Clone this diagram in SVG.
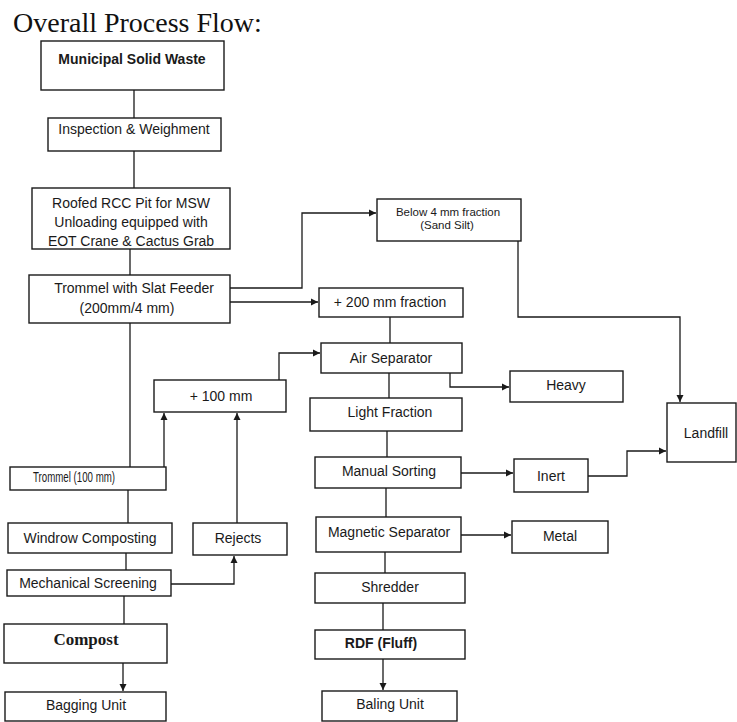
<svg xmlns="http://www.w3.org/2000/svg" width="737" height="722" viewBox="0 0 737 722">
<defs>
<marker id="ah" markerWidth="8" markerHeight="8" refX="7" refY="4" orient="auto" markerUnits="userSpaceOnUse">
<path d="M0,0.5 L7,4 L0,7.5 Z" fill="#1a1a1a"/>
</marker>
<style>
.box{fill:#fff;stroke:#1a1a1a;stroke-width:1.4}
.t{font-family:"Liberation Sans",Arial,sans-serif;font-size:14px;fill:#1a1a1a;text-anchor:middle}
.b{font-weight:bold}
.s{font-size:11.5px}
.c{fill:none;stroke:#1a1a1a;stroke-width:1.3}
.a{marker-end:url(#ah)}
</style>
</defs>
<rect width="737" height="722" fill="#fff"/>
<text x="13" y="32" font-family="'Liberation Serif','Times New Roman',serif" font-size="28" fill="#111">Overall Process Flow:</text>

<g id="connectors">
<path class="c" d="M134,90 V118"/>
<path class="c" d="M134,151 V188"/>
<path class="c" d="M130,249 V275"/>
<path class="c a" d="M230,288 H302 V213 H376"/>
<path class="c a" d="M230,302 H318"/>
<path class="c" d="M390,317 V343"/>
<path class="c a" d="M518,241 V317 H680 V402"/>
<path class="c" d="M130,323 V467"/>
<path class="c a" d="M164,467 V413"/>
<path class="c a" d="M279,380 V353 H320"/>
<path class="c a" d="M450,373 V387 H509"/>
<path class="c" d="M389,373 V398"/>
<path class="c" d="M387,431 V457"/>
<path class="c a" d="M461,473 H513"/>
<path class="c a" d="M588,476 H627 V451 H666"/>
<path class="c" d="M386,488 V517"/>
<path class="c a" d="M461,535 H511"/>
<path class="c" d="M385,552 V573"/>
<path class="c" d="M128,490 V523"/>
<path class="c a" d="M237,523 V413"/>
<path class="c" d="M126,553 V570"/>
<path class="c a" d="M171,584 H234 V556"/>
<path class="c" d="M124,596 V624"/>
<path class="c a" d="M123,663 V691"/>
<path class="c" d="M383,603 V630"/>
<path class="c a" d="M383,659 V690"/>
</g>

<g id="msw"><rect class="box" x="41" y="41" width="183" height="49"/><text class="t b" x="132" y="64">Municipal Solid Waste</text></g>
<g id="inspection"><rect class="box" x="48" y="118" width="173" height="33"/><text class="t" x="134" y="134" font-size="13">Inspection &amp; Weighment</text></g>
<g id="pit"><rect class="box" x="32" y="188" width="198" height="61"/>
<text class="t" x="131" y="208">Roofed RCC Pit for MSW</text>
<text class="t" x="131" y="227">Unloading equipped with</text>
<text class="t" x="131" y="246">EOT Crane &amp; Cactus Grab</text></g>
<g id="trommel1"><rect class="box" x="29" y="275" width="201" height="48"/>
<text class="t" x="134" y="293">Trommel with Slat Feeder</text>
<text class="t" x="127" y="313">(200mm/4 mm)</text></g>
<g id="below4"><rect class="box" x="377" y="199" width="144" height="42"/>
<text class="t s" x="448" y="216">Below 4 mm fraction</text>
<text class="t s" x="447" y="229">(Sand Silt)</text></g>
<g id="plus200"><rect class="box" x="319" y="288" width="144" height="29"/><text class="t" x="390" y="307">+ 200 mm fraction</text></g>
<g id="airsep"><rect class="box" x="321" y="343" width="141" height="30"/><text class="t" x="391" y="363">Air Separator</text></g>
<g id="plus100"><rect class="box" x="154" y="380" width="132" height="32"/><text class="t" x="221" y="401" font-size="13">+ 100 mm</text></g>
<g id="heavy"><rect class="box" x="510" y="371" width="113" height="31"/><text class="t" x="566" y="390">Heavy</text></g>
<g id="light"><rect class="box" x="310" y="398" width="152" height="33"/><text class="t" x="390" y="417">Light Fraction</text></g>
<g id="landfill"><rect class="box" x="667" y="403" width="69" height="59"/><text class="t" x="706" y="438">Landfill</text></g>
<g id="manual"><rect class="box" x="315" y="457" width="146" height="31"/><text class="t" x="389" y="476">Manual Sorting</text></g>
<g id="inert"><rect class="box" x="514" y="459" width="74" height="33"/><text class="t" x="551" y="481">Inert</text></g>
<g id="trommel2"><rect class="box" x="10" y="467" width="156" height="23"/><text class="t" x="74" y="482" font-size="11" textLength="82" lengthAdjust="spacingAndGlyphs">Trommel (100 mm)</text></g>
<g id="magnetic"><rect class="box" x="316" y="517" width="145" height="35"/><text class="t" x="389" y="537">Magnetic Separator</text></g>
<g id="metal"><rect class="box" x="512" y="521" width="96" height="32"/><text class="t" x="560" y="541">Metal</text></g>
<g id="windrow"><rect class="box" x="8" y="523" width="164" height="30"/><text class="t" x="90" y="543">Windrow Composting</text></g>
<g id="rejects"><rect class="box" x="193" y="523" width="94" height="32"/><text class="t" x="238" y="543">Rejects</text></g>
<g id="mech"><rect class="box" x="7" y="570" width="164" height="26"/><text class="t" x="88" y="588">Mechanical Screening</text></g>
<g id="shredder"><rect class="box" x="315" y="573" width="150" height="30"/><text class="t" x="390" y="592">Shredder</text></g>
<g id="compost"><rect class="box" x="4" y="624" width="163" height="39"/><text x="86" y="645" font-family="'Liberation Serif','Times New Roman',serif" font-weight="bold" font-size="17" fill="#1a1a1a" text-anchor="middle">Compost</text></g>
<g id="rdf"><rect class="box" x="315" y="630" width="150" height="29"/><text class="t b" x="381" y="648">RDF (Fluff)</text></g>
<g id="bagging"><rect class="box" x="5" y="692" width="161" height="29"/><text class="t" x="86" y="710">Bagging Unit</text></g>
<g id="baling"><rect class="box" x="322" y="691" width="135" height="30"/><text class="t" x="390" y="709" font-size="12">Baling Unit</text></g>
</svg>
